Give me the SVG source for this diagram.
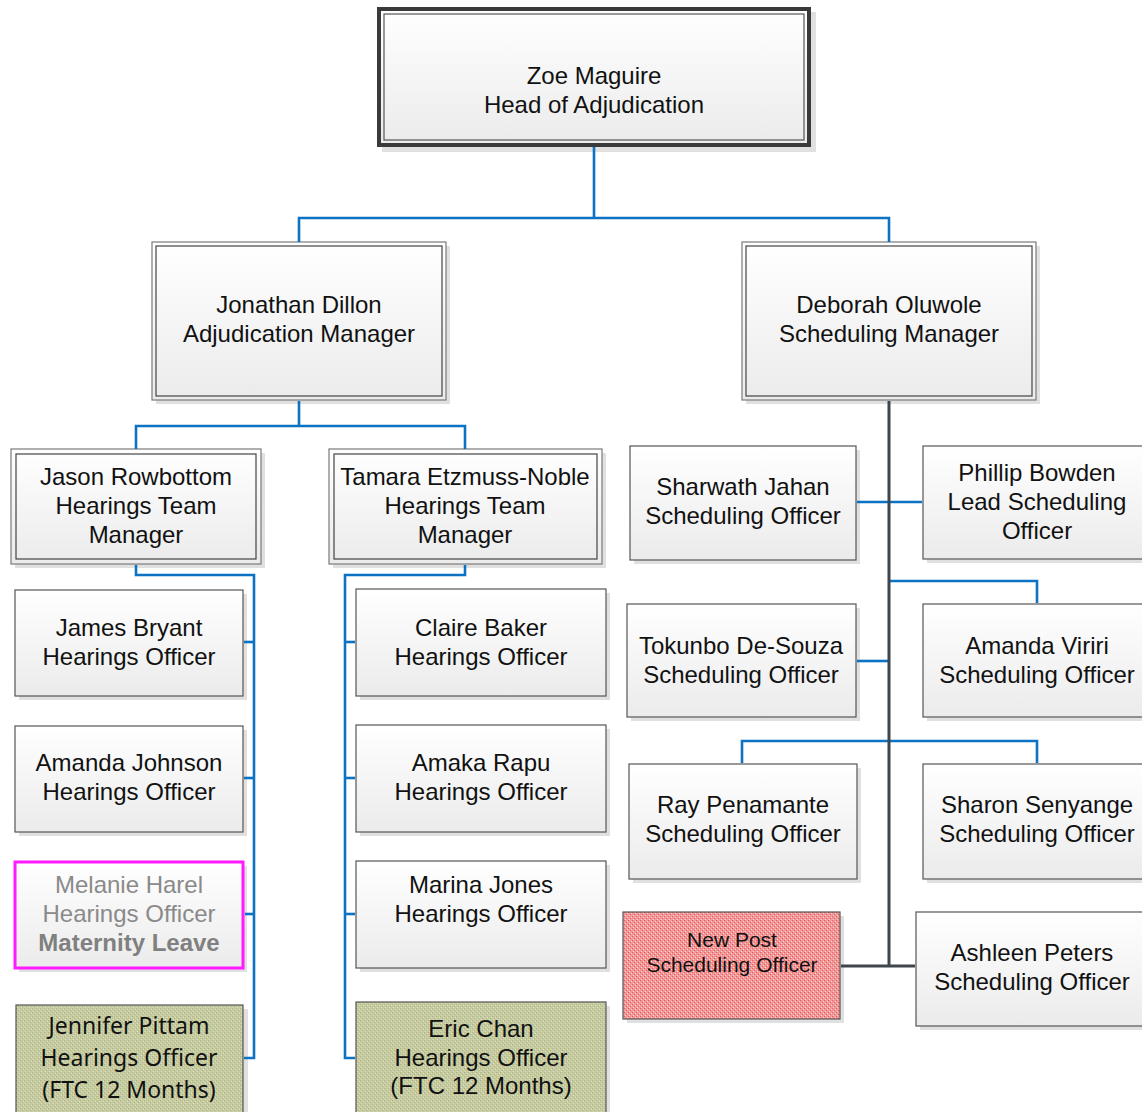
<svg xmlns="http://www.w3.org/2000/svg" width="1142" height="1112" viewBox="0 0 1142 1112">
<style>
text{font-family:"Liberation Sans",Arial,sans-serif;font-size:24px;fill:#111;text-anchor:middle}
.shadow{fill:#e0e0e0}
.box{fill:url(#g);stroke:#555;stroke-width:1.2}
.outer{fill:url(#g);stroke:#7a7a7a;stroke-width:1.2}
.inner{fill:none;stroke:#444;stroke-width:1.2}
.blue{fill:none;stroke:#0b72c4;stroke-width:2.6}
.dark{fill:none;stroke:#3f464d;stroke-width:3}
.ftc{font-family:"Noto Sans","Open Sans",sans-serif;font-size:23px}
</style>
<defs>
<linearGradient id="g" x1="0" y1="0" x2="0" y2="1">
<stop offset="0" stop-color="#ffffff"/>
<stop offset="1" stop-color="#ebebeb"/>
</linearGradient>
<pattern id="green" width="4" height="4" patternUnits="userSpaceOnUse">
<rect width="4" height="4" fill="#c6cb9f"/>
<rect x="0" y="0" width="1" height="1" fill="#adb383"/>
<rect x="2" y="2" width="1" height="1" fill="#adb383"/>
<rect x="1" y="3" width="1" height="1" fill="#dde0c4"/>
<rect x="3" y="1" width="1" height="1" fill="#dde0c4"/>
</pattern>
<pattern id="red" width="4" height="4" patternUnits="userSpaceOnUse">
<rect width="4" height="4" fill="#f19696"/>
<rect x="0" y="0" width="1" height="1" fill="#ea5c5c"/>
<rect x="2" y="2" width="1" height="1" fill="#ea5c5c"/>
<rect x="1" y="3" width="1" height="1" fill="#fcd6d6"/>
<rect x="3" y="1" width="1" height="1" fill="#fcd6d6"/>
</pattern>
</defs>
<rect width="1142" height="1112" fill="#ffffff"/>

<g id="zoe">
<rect class="shadow" x="382" y="12" width="434" height="140"/>
<rect x="379" y="9" width="430" height="136" fill="url(#g)" stroke="#3a3a3a" stroke-width="4"/>
<rect x="384" y="14" width="420" height="126" fill="none" stroke="#555" stroke-width="1.2"/>
<text x="594" y="84">Zoe Maguire</text>
<text x="594" y="113">Head of Adjudication</text>
</g>

<g id="jonathan">
<rect class="shadow" x="156" y="246" width="294" height="158"/>
<rect class="outer" x="152" y="242" width="294" height="158"/>
<rect class="inner" x="156" y="246" width="286" height="150"/>
<text x="299" y="313">Jonathan Dillon</text>
<text x="299" y="342">Adjudication Manager</text>
</g>

<g id="deborah">
<rect class="shadow" x="746" y="246" width="294" height="158"/>
<rect class="outer" x="742" y="242" width="294" height="158"/>
<rect class="inner" x="746" y="246" width="286" height="150"/>
<text x="889" y="313">Deborah Oluwole</text>
<text x="889" y="342">Scheduling Manager</text>
</g>

<g id="jason">
<rect class="shadow" x="15" y="453" width="250" height="115"/>
<rect class="outer" x="11" y="449" width="250" height="115"/>
<rect class="inner" x="16" y="454" width="240" height="105"/>
<text x="136" y="485">Jason Rowbottom</text>
<text x="136" y="514">Hearings Team</text>
<text x="136" y="543">Manager</text>
</g>

<g id="tamara">
<rect class="shadow" x="333" y="453" width="273" height="115"/>
<rect class="outer" x="329" y="449" width="273" height="115"/>
<rect class="inner" x="334" y="454" width="263" height="105"/>
<text x="465" y="485">Tamara Etzmuss-Noble</text>
<text x="465" y="514">Hearings Team</text>
<text x="465" y="543">Manager</text>
</g>

<g id="james">
<rect class="shadow" x="19" y="594" width="228" height="106"/>
<rect class="box" x="15" y="590" width="228" height="106"/>
<text x="129" y="636">James Bryant</text>
<text x="129" y="665">Hearings Officer</text>
</g>

<g id="amanda-johnson">
<rect class="shadow" x="19" y="730" width="228" height="106"/>
<rect class="box" x="15" y="726" width="228" height="106"/>
<text x="129" y="771">Amanda Johnson</text>
<text x="129" y="800">Hearings Officer</text>
</g>

<g id="melanie">
<rect class="shadow" x="19" y="866" width="228" height="106"/>
<rect x="15" y="862" width="228" height="106" fill="url(#g)" stroke="#ff1aff" stroke-width="3"/>
<text x="129" y="893" style="fill:#8a8a8a">Melanie Harel</text>
<text x="129" y="922" style="fill:#8a8a8a">Hearings Officer</text>
<text x="129" y="951" style="fill:#808080;font-weight:bold">Maternity Leave</text>
</g>

<g id="jennifer">
<rect class="shadow" x="20" y="1009" width="228" height="110"/>
<rect x="16" y="1005" width="227" height="110" fill="url(#green)" stroke="#555" stroke-width="1.2"/>
<text class="ftc" x="129" y="1034">Jennifer Pittam</text>
<text class="ftc" x="129" y="1066">Hearings Officer</text>
<text class="ftc" x="129" y="1098">(FTC 12 Months)</text>
</g>

<g id="claire">
<rect class="shadow" x="360" y="593" width="250" height="107"/>
<rect class="box" x="356" y="589" width="250" height="107"/>
<text x="481" y="636">Claire Baker</text>
<text x="481" y="665">Hearings Officer</text>
</g>

<g id="amaka">
<rect class="shadow" x="360" y="729" width="250" height="107"/>
<rect class="box" x="356" y="725" width="250" height="107"/>
<text x="481" y="771">Amaka Rapu</text>
<text x="481" y="800">Hearings Officer</text>
</g>

<g id="marina">
<rect class="shadow" x="360" y="865" width="250" height="107"/>
<rect class="box" x="356" y="861" width="250" height="107"/>
<text x="481" y="893">Marina Jones</text>
<text x="481" y="922">Hearings Officer</text>
</g>

<g id="eric">
<rect class="shadow" x="360" y="1006" width="250" height="110"/>
<rect x="356" y="1002" width="250" height="115" fill="url(#green)" stroke="#555" stroke-width="1.2"/>
<text x="481" y="1037">Eric Chan</text>
<text x="481" y="1066">Hearings Officer</text>
<text x="481" y="1094">(FTC 12 Months)</text>
</g>

<g id="sharwath">
<rect class="shadow" x="634" y="450" width="226" height="114"/>
<rect class="box" x="630" y="446" width="226" height="114"/>
<text x="743" y="495">Sharwath Jahan</text>
<text x="743" y="524">Scheduling Officer</text>
</g>

<g id="phillip">
<rect class="shadow" x="927" y="450" width="228" height="113"/>
<rect class="box" x="923" y="446" width="228" height="113"/>
<text x="1037" y="481">Phillip Bowden</text>
<text x="1037" y="510">Lead Scheduling</text>
<text x="1037" y="539">Officer</text>
</g>

<g id="tokunbo">
<rect class="shadow" x="631" y="608" width="229" height="113"/>
<rect class="box" x="627" y="604" width="229" height="113"/>
<text x="741" y="654">Tokunbo De-Souza</text>
<text x="741" y="683">Scheduling Officer</text>
</g>

<g id="amanda-viriri">
<rect class="shadow" x="927" y="608" width="228" height="113"/>
<rect class="box" x="923" y="604" width="228" height="113"/>
<text x="1037" y="654">Amanda Viriri</text>
<text x="1037" y="683">Scheduling Officer</text>
</g>

<g id="ray">
<rect class="shadow" x="633" y="768" width="228" height="115"/>
<rect class="box" x="629" y="764" width="228" height="115"/>
<text x="743" y="813">Ray Penamante</text>
<text x="743" y="842">Scheduling Officer</text>
</g>

<g id="sharon">
<rect class="shadow" x="927" y="768" width="228" height="115"/>
<rect class="box" x="923" y="764" width="228" height="115"/>
<text x="1037" y="813">Sharon Senyange</text>
<text x="1037" y="842">Scheduling Officer</text>
</g>

<g id="new-post">
<rect class="shadow" x="627" y="916" width="217" height="107"/>
<rect x="623" y="912" width="217" height="107" fill="url(#red)" stroke="#555" stroke-width="1.2"/>
<text x="732" y="947" style="font-size:21px">New Post</text>
<text x="732" y="972" style="font-size:21px">Scheduling Officer</text>
</g>

<g id="ashleen">
<rect class="shadow" x="920" y="916" width="232" height="114"/>
<rect class="box" x="916" y="912" width="232" height="114"/>
<text x="1032" y="961">Ashleen Peters</text>
<text x="1032" y="990">Scheduling Officer</text>
</g>

<g id="connectors">
<polyline class="blue" points="594,147 594,218"/>
<polyline class="blue" points="299,242 299,218 889,218 889,242"/>
<polyline class="blue" points="299,401 299,426"/>
<polyline class="blue" points="136,449 136,426 465,426 465,449"/>
<polyline class="blue" points="136,565 136,575 254,575 254,1058 244,1058"/>
<line class="blue" x1="244" y1="642" x2="254" y2="642"/>
<line class="blue" x1="244" y1="778" x2="254" y2="778"/>
<line class="blue" x1="245" y1="914" x2="254" y2="914"/>
<polyline class="blue" points="465,565 465,575 345,575 345,1058 355,1058"/>
<line class="blue" x1="345" y1="642" x2="355" y2="642"/>
<line class="blue" x1="345" y1="778" x2="355" y2="778"/>
<line class="blue" x1="345" y1="914" x2="355" y2="914"/>
<line class="blue" x1="857" y1="502" x2="922" y2="502"/>
<polyline class="blue" points="889,581 1037,581 1037,603"/>
<line class="blue" x1="857" y1="661" x2="889" y2="661"/>
<polyline class="blue" points="742,763 742,741 1037,741 1037,763"/>
<polyline class="dark" points="889,401 889,967"/>
<line class="dark" x1="841" y1="966" x2="915" y2="966"/>
</g>
</svg>
